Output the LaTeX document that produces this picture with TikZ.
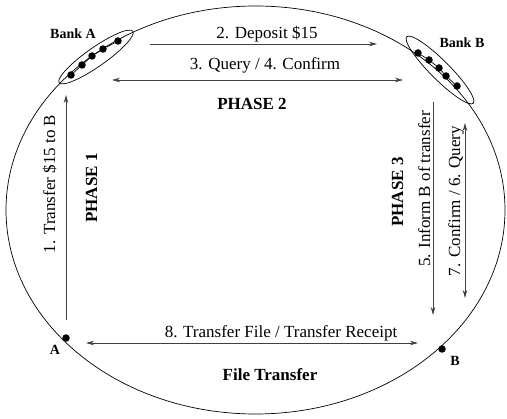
\documentclass[tikz,border=0pt]{standalone}
\usepackage{fontspec}
\setmainfont{Liberation Serif}
\usetikzlibrary{arrows.meta,shapes.geometric}
\begin{document}
\begin{tikzpicture}[x=1pt,y=-1pt,
  tip/.tip={Stealth[length=8pt,width=4.5pt,inset=2.5pt]},
  conn/.style={line width=0.8pt, black!75, -tip},
  both/.style={line width=0.8pt, black!75, tip-tip},
  lbl/.style={font=\fontsize{17}{20}\selectfont, inner sep=0pt, anchor=base},
  bold/.style={font=\fontsize{17}{20}\selectfont\bfseries, inner sep=0pt, anchor=base},
  small/.style={font=\fontsize{14}{16}\selectfont\bfseries, inner sep=0pt},
  dot/.style={circle, fill=black, inner sep=0pt, minimum size=7.5pt},
  bank/.style={draw, ellipse, line width=0.7pt, inner sep=0pt, minimum height=19pt},
]
\useasboundingbox (0,0) rectangle (507,419);
% outer ellipse
\draw[line width=0.7pt] (255.5,210) ellipse [x radius=249.5, y radius=204];
% Bank A
\node[bank, minimum width=90pt, rotate=35] (bankA) at (96,57) {};
\node[dot] (a1) at (71,75) {};
\node[dot] (a2) at (82,65) {};
\node[dot] (a3) at (92,56) {};
\node[dot] (a4) at (103,49) {};
\node[dot] (a5) at (118,41) {};
\draw[line width=0.7pt] (a1) -- (a2) -- (a3) -- (a4) -- (a5);
\node[small] (labA) at (73,34) {Bank A};
% Bank B
\node[bank, minimum width=94pt, rotate=-45] (bankB) at (440,70) {};
\node[dot] (b1) at (418,53) {};
\node[dot] (b2) at (429,60) {};
\node[dot] (b3) at (439,68) {};
\node[dot] (b4) at (446,76) {};
\node[dot] (b5) at (457,86) {};
\draw[line width=0.7pt] (b1) -- (b2) -- (b3) -- (b4) -- (b5);
\node[small] (labB) at (462,43) {Bank B};
% A and B
\node[dot] (A) at (66,338) {};
\node[small] (labAA) at (55,350) {A};
\node[dot] (B) at (442,349) {};
\node[small] (labBB) at (455,361) {B};
% arrows
\coordinate (p2s) at (150,44);
\coordinate (p2e) at (377,44);
\draw[conn] (p2s) -- (p2e);
\node[lbl] (t2) at (267,39) {2. Deposit \$15};
\coordinate (p3s) at (112,80);
\coordinate (p3e) at (403,80);
\draw[both] (p3s) -- (p3e);
\node[lbl] (t3) at (265,70) {3. Query / 4. Confirm};
\node[bold] (ph2) at (252,110) {PHASE 2};
\coordinate (p1s) at (66,320);
\coordinate (p1e) at (66,95);
\draw[conn] (p1s) -- (p1e);
\node[lbl, rotate=90] (t1) at (55,184) {1. Transfer \$15 to B};
\node[bold, rotate=90] (ph1) at (97,188) {PHASE 1};
\coordinate (p5s) at (433,102);
\coordinate (p5e) at (433,315);
\draw[conn] (p5s) -- (p5e);
\node[lbl, rotate=90] (t5) at (430,189) {5. Inform B of transfer};
\node[bold, rotate=90] (ph3) at (403,192) {PHASE 3};
\coordinate (p7s) at (465,123);
\coordinate (p7e) at (465,298);
\draw[both] (p7s) -- (p7e);
\node[lbl, rotate=90] (t7) at (460,201) {7. Confirm / 6. Query};
\coordinate (p8s) at (86,343);
\coordinate (p8e) at (418,343);
\draw[both] (p8s) -- (p8e);
\node[lbl] (t8) at (281,338) {8. Transfer File / Transfer Receipt};
\node[bold] (ft) at (270,381) {File Transfer};
\end{tikzpicture}
\end{document}
